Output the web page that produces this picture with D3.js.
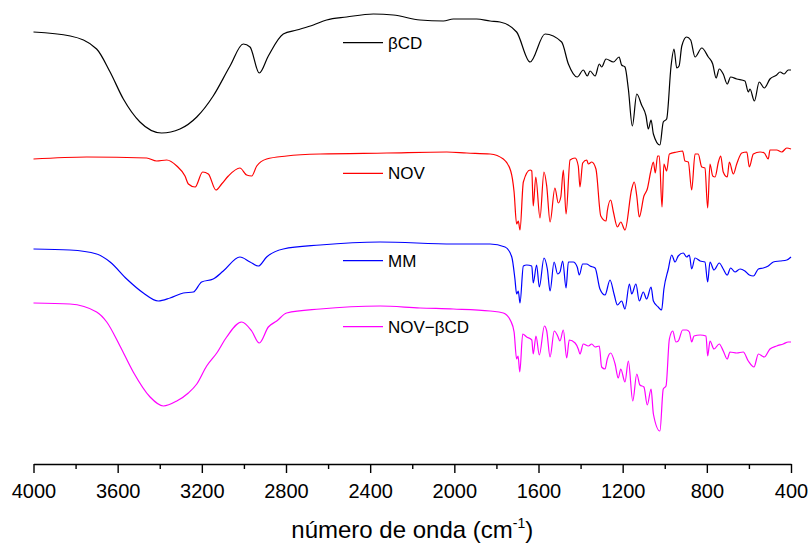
<!DOCTYPE html>
<html>
<head>
<meta charset="utf-8">
<script src="https://cdn.jsdelivr.net/npm/d3@7"></script>
<style>
  body { margin: 0; background: #fff; }
  svg { display: block; font-family: Arial, "Liberation Sans", sans-serif; }
</style>
</head>
<body>
<svg id="chart" width="808" height="543"></svg>
<script>
// Spectra: [wavenumber (cm-1), offset transmittance (a.u.)]
const betaCD = [
  [4000,432],[3825,428],[3700,415],[3636,392],[3573,365],[3494,342],[3391,331],[3304,335],
  [3224,347],[3146,368],[3066,398],[3003,420],[2971,417],[2927,391],[2884,408],[2813,430],
  [2749,434],[2670,439],[2607,444],[2512,447],[2385,450],[2290,449],[2163,444],[2052,443],
  [2005,445],[1894,445],[1830,443],[1783,442],[1704,432],[1640,402],[1569,430],[1490,422],
  [1458,400],[1416,387],[1387,394],[1368,388],[1355,393],[1331,388],[1311,400],[1300,397],
  [1279,405],[1244,402],[1217,407],[1205,399],[1189,397],[1173,375],[1154,338],[1133,370],
  [1110,359],[1089,348],[1078,335],[1065,344],[1054,330],[1023,319],[1007,342],[991,345],
  [970,398],[956,415],[943,396],[932,398],[919,418],[896,427],[877,424],[856,407],
  [824,416],[793,407],[772,400],[756,386],[741,395],[722,390],[703,380],[687,387],
  [658,385],[619,383],[603,372],[595,375],[574,363],[551,382],[527,376],[500,385],
  [468,389],[452,392],[433,390],[413,394],[400,394]
];

const nov = [
  [4000,305],[3747,307],[3462,306],[3415,303],[3367,304],[3319,298],[3280,288],[3264,280],
  [3232,277],[3196,292],[3169,290],[3133,274],[3106,280],[3074,288],[3019,296],[2987,289],
  [2963,288],[2939,298],[2892,305],[2797,308],[2638,310],[2321,311],[2036,312],[1941,311],
  [1830,310],[1767,305],[1732,293],[1716,272],[1704,240],[1696,243],[1688,234],[1672,282],
  [1640,294],[1632,293],[1625,258],[1613,287],[1593,246],[1574,292],[1561,278],[1545,242],
  [1522,276],[1506,261],[1494,267],[1482,294],[1469,250],[1450,304],[1426,306],[1411,298],
  [1403,277],[1390,301],[1371,304],[1363,300],[1347,302],[1327,295],[1304,248],[1279,243],
  [1273,253],[1257,264],[1244,252],[1225,237],[1209,242],[1189,234],[1157,275],[1145,282],
  [1133,268],[1121,247],[1099,268],[1083,275],[1067,292],[1054,302],[1045,291],[1034,308],
  [1026,308],[1013,257],[1004,300],[991,293],[978,310],[943,312],[915,313],[904,303],
  [888,302],[872,274],[856,310],[841,310],[824,297],[809,296],[796,256],[785,300],
  [772,288],[761,287],[745,302],[734,308],[722,292],[703,287],[693,302],[674,290],
  [658,300],[634,311],[610,312],[598,297],[579,310],[547,312],[527,311],[508,305],
  [500,314],[468,314],[444,312],[420,316],[400,315]
];

const mm = [
  [4000,215],[3827,214],[3700,210],[3636,202],[3557,185],[3478,171],[3407,163],[3351,166],
  [3288,171],[3240,172],[3201,182],[3146,185],[3098,193],[3019,207],[2971,202],[2932,198],
  [2892,207],[2813,215],[2638,219],[2353,222],[2005,220],[1830,220],[1759,217],[1727,207],
  [1712,185],[1704,170],[1696,173],[1688,161],[1672,198],[1656,199],[1632,198],[1625,181],
  [1609,199],[1596,177],[1574,206],[1558,195],[1545,173],[1526,202],[1509,190],[1498,192],
  [1485,203],[1469,176],[1458,202],[1435,202],[1416,197],[1406,189],[1390,200],[1371,200],
  [1355,198],[1331,196],[1308,175],[1284,169],[1260,184],[1241,170],[1225,159],[1205,163],
  [1189,155],[1168,180],[1157,170],[1137,180],[1121,163],[1102,172],[1086,165],[1065,177],
  [1054,163],[1031,157],[1015,154],[1004,175],[983,195],[967,209],[951,202],[936,208],
  [912,211],[896,207],[883,209],[872,195],[856,206],[832,203],[809,202],[796,182],
  [785,202],[766,194],[741,201],[722,195],[703,189],[687,196],[666,192],[642,195],
  [619,193],[598,189],[579,188],[555,195],[532,196],[508,198],[484,202],[452,203],
  [420,204],[400,207]
];

const novBetaCD = [
  [4000,161],[3827,160],[3700,152],[3652,142],[3589,118],[3526,92],[3446,67],[3383,58],
  [3319,63],[3264,71],[3224,80],[3177,98],[3129,111],[3082,127],[3011,142],[2963,133],
  [2927,121],[2884,137],[2844,143],[2797,151],[2638,155],[2353,158],[2163,156],[2005,155],
  [1830,153],[1767,151],[1732,143],[1716,132],[1704,105],[1697,108],[1689,92],[1675,130],
  [1656,127],[1632,124],[1625,110],[1612,128],[1596,109],[1572,138],[1561,133],[1545,107],
  [1525,133],[1509,128],[1498,123],[1482,134],[1466,106],[1454,124],[1426,121],[1411,115],
  [1403,110],[1387,120],[1363,118],[1347,120],[1331,117],[1311,118],[1300,97],[1284,95],
  [1273,105],[1257,111],[1236,100],[1221,86],[1209,95],[1189,82],[1173,103],[1152,63],
  [1133,90],[1118,79],[1099,77],[1083,59],[1065,75],[1054,50],[1023,33],[1007,75],
  [994,78],[978,125],[962,133],[947,122],[936,123],[915,134],[896,134],[883,132],
  [872,122],[861,128],[832,129],[804,128],[796,108],[785,123],[766,115],[741,120],
  [722,113],[703,105],[690,112],[658,111],[627,112],[603,103],[576,97],[555,110],
  [527,107],[500,115],[468,118],[437,120],[413,122],[400,122]
];

const seriesNames = ["\u03b2CD", "NOV", "MM", "NOV\u2212\u03b2CD"];
const seriesColors = ["#000000", "#ff0000", "#0000ff", "#ff00ff"];
const seriesData = [betaCD, nov, mm, novBetaCD];

const majorTicks = [4000, 3600, 3200, 2800, 2400, 2000, 1600, 1200, 800, 400];
const minorTicks = [3800, 3400, 3000, 2600, 2200, 1800, 1400, 1000, 600];

// Layout
const svg = d3.select("#chart");
const plot = { left: 33.5, right: 791, top: 0, bottom: 464 };

const xScale = d3.scaleLinear()
  .domain([4000, 400])
  .range([plot.left, plot.right]);

const yScale = d3.scaleLinear()
  .domain([0, 464])
  .range([plot.bottom, plot.top]);

// Spectra
const line = d3.line()
  .x(d => xScale(d[0]))
  .y(d => yScale(d[1]))
  .curve(d3.curveMonotoneX);

seriesData.forEach((data, i) => {
  svg.append("path")
    .datum(data)
    .attr("fill", "none")
    .attr("stroke", seriesColors[i])
    .attr("stroke-width", 1.2)
    .attr("stroke-linejoin", "round")
    .attr("d", line);
});

// Bottom axis with minor ticks
const xAxis = d3.axisBottom(xScale)
  .tickValues(majorTicks)
  .tickSize(9)
  .tickSizeOuter(0)
  .tickPadding(11)
  .tickFormat(d3.format("d"));

const axisG = svg.append("g")
  .attr("transform", `translate(0,${plot.bottom})`)
  .call(xAxis);

axisG.select(".domain").attr("stroke-width", 1.6);
axisG.selectAll(".tick line").attr("stroke-width", 1.4);
axisG.selectAll(".tick text")
  .attr("fill", "#000")
  .style("font-size", "20px")
  .style("font-family", "Arial, 'Liberation Sans', sans-serif");

const minorG = svg.append("g")
  .attr("transform", `translate(0,${plot.bottom})`)
  .call(d3.axisBottom(xScale).tickValues(minorTicks).tickSize(5).tickFormat(""));
minorG.select(".domain").remove();
minorG.selectAll(".tick line").attr("stroke-width", 1.4);

// Axis title
const title = svg.append("text")
  .attr("x", (plot.left + plot.right) / 2)
  .attr("y", 538)
  .attr("text-anchor", "middle")
  .style("font-size", "24px")
  .attr("fill", "#000");
title.append("tspan").text("número de onda (cm");
title.append("tspan").attr("dy", -10).style("font-size", "14px").text("-1");
title.append("tspan").attr("dy", 10).text(")");

// Legend entries sit next to each curve
const legendY = [42.7, 173.3, 260.7, 326.7];
const legend = svg.append("g");
seriesNames.forEach((name, i) => {
  legend.append("line")
    .attr("x1", 343)
    .attr("x2", 383)
    .attr("y1", legendY[i])
    .attr("y2", legendY[i])
    .attr("stroke", seriesColors[i])
    .attr("stroke-width", 1.2);
  legend.append("text")
    .attr("x", 388)
    .attr("y", legendY[i])
    .attr("dy", "0.36em")
    .style("font-size", "17px")
    .attr("fill", "#000")
    .text(name);
});
</script>
</body>
</html>
